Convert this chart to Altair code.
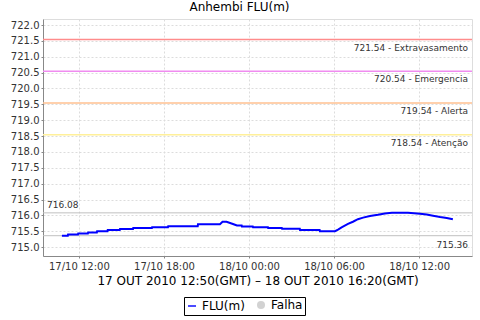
import altair as alt
import pandas as pd

# ---- data ----
flu_times = [
    "2010-10-17T10:48:00", "2010-10-17T11:13:00", "2010-10-17T11:14:00", "2010-10-17T11:56:00",
    "2010-10-17T11:57:00", "2010-10-17T12:38:00", "2010-10-17T12:39:00", "2010-10-17T13:16:00",
    "2010-10-17T13:17:00", "2010-10-17T14:01:00", "2010-10-17T14:02:00", "2010-10-17T14:53:00",
    "2010-10-17T14:54:00", "2010-10-17T15:49:00", "2010-10-17T15:50:00", "2010-10-17T17:09:00",
    "2010-10-17T17:10:00", "2010-10-17T18:17:00", "2010-10-17T18:18:00", "2010-10-17T20:23:00",
    "2010-10-17T20:24:00", "2010-10-17T21:57:00", "2010-10-17T22:08:00", "2010-10-17T22:25:00",
    "2010-10-17T22:52:00", "2010-10-17T23:09:00", "2010-10-17T23:29:00", "2010-10-17T23:30:00",
    "2010-10-18T00:16:00", "2010-10-18T00:17:00", "2010-10-18T01:20:00", "2010-10-18T01:21:00",
    "2010-10-18T02:19:00", "2010-10-18T02:20:00", "2010-10-18T03:35:00", "2010-10-18T03:36:00",
    "2010-10-18T04:59:00", "2010-10-18T05:00:00", "2010-10-18T06:04:00", "2010-10-18T06:17:00",
    "2010-10-18T06:32:00", "2010-10-18T06:59:00", "2010-10-18T07:20:00", "2010-10-18T07:41:00",
    "2010-10-18T08:03:00", "2010-10-18T08:32:00", "2010-10-18T09:06:00", "2010-10-18T09:35:00",
    "2010-10-18T10:05:00", "2010-10-18T11:13:00", "2010-10-18T12:04:00", "2010-10-18T12:32:00",
    "2010-10-18T12:59:00", "2010-10-18T13:29:00", "2010-10-18T13:57:00", "2010-10-18T14:23:00",
]
flu_values = [
    715.36, 715.36, 715.40, 715.40,
    715.43, 715.43, 715.46, 715.46,
    715.50, 715.50, 715.54, 715.54,
    715.57, 715.57, 715.60, 715.60,
    715.63, 715.63, 715.66, 715.66,
    715.72, 715.72, 715.80, 715.80,
    715.73, 715.68, 715.68, 715.65,
    715.65, 715.63, 715.63, 715.60,
    715.60, 715.58, 715.58, 715.54,
    715.54, 715.50, 715.50, 715.55,
    715.62, 715.73, 715.80, 715.88,
    715.93, 715.98, 716.02, 716.06,
    716.08, 716.08, 716.05, 716.03,
    715.99, 715.95, 715.92, 715.88,
]

threshold_values = [721.54, 720.54, 719.54, 718.54]
threshold_names = ["Extravasamento", "Emergencia", "Alerta", "Atenção"]
threshold_colors = ["#ff8c8c", "#f08cf0", "#ffc090", "#fff09a"]

max_value = 716.08
min_value = 715.36

legend_names = ["FLU(m)", "Falha"]
legend_colors = ["#0000ff", "#c0c0c0"]

y_ticks = [715.0 + 0.5 * i for i in range(15)]
x_tick_times = [(17, 12), (17, 18), (18, 0), (18, 6), (18, 12)]

title_text = "Anhembi FLU(m)"
x_title = "17 OUT 2010 12:50(GMT) \u2013 18 OUT 2010 16:20(GMT)"

# ---- tables ----
flu_df = pd.DataFrame({"t": flu_times, "v": flu_values})
thr_df = pd.DataFrame({
    "v": threshold_values,
    "label": [f"{v:.2f} - {n}" for v, n in zip(threshold_values, threshold_names)],
    "color": threshold_colors,
})
max_df = pd.DataFrame({"v": [max_value], "label": [f"{max_value:.2f}"]})
min_df = pd.DataFrame({"v": [min_value], "label": [f"{min_value:.2f}"]})
leg_df = pd.DataFrame({
    "s": legend_names,
    "t": ["2010-10-17T12:00:00", "2010-10-17T12:00:00"],
    "v": [700.0, 700.0],
})

FONT = "DejaVu Sans"

y_scale = alt.Scale(domain=[714.72, 722.19], nice=False, zero=False)
x_scale = alt.Scale(domain=[
    alt.DateTime(year=2010, month=10, date=17, hours=9, minutes=28),
    alt.DateTime(year=2010, month=10, date=18, hours=15, minutes=44),
], nice=False)

y_axis = alt.Axis(
    title=None, values=y_ticks, format=".1f", labelFontSize=10, labelFont=FONT,
    labelColor="#333333", tickSize=2, labelPadding=2, domainColor="#888888",
    tickColor="#888888", gridColor="#dcdcdc", gridDash=[2, 2],
)
x_axis = alt.Axis(
    title=x_title,
    values=[alt.DateTime(year=2010, month=10, date=d, hours=h) for d, h in x_tick_times],
    format="%d/%m %H:%M", labelFontSize=10, labelFont=FONT, labelColor="#333333",
    tickSize=2, labelPadding=3, domainColor="#888888", tickColor="#888888",
    gridColor="#dcdcdc", gridDash=[2, 2], titleFont=FONT, titleFontSize=12,
    titleFontWeight="normal", titleColor="black", titlePadding=4,
)

def Y():
    return alt.Y("v:Q", scale=y_scale, axis=y_axis)

thr_rules = alt.Chart(thr_df).mark_rule(strokeWidth=1.5).encode(
    y=Y(), color=alt.Color("color:N", scale=None)
)
thr_text = alt.Chart(thr_df).mark_text(
    align="right", baseline="middle", dy=8, fontSize=9, font=FONT, color="#333333"
).encode(y=Y(), x=alt.value(425), text="label:N")

minmax_rules = alt.Chart(pd.concat([max_df, min_df])).mark_rule(
    color="#c0c0c0", strokeWidth=1
).encode(y=Y())
max_text = alt.Chart(max_df).mark_text(
    align="left", baseline="middle", dy=-8, fontSize=9, font=FONT, color="#333333"
).encode(y=Y(), x=alt.value(4), text="label:N")
min_text = alt.Chart(min_df).mark_text(
    align="right", baseline="middle", dy=9, fontSize=9, font=FONT, color="#333333"
).encode(y=Y(), x=alt.value(425), text="label:N")

line = alt.Chart(flu_df).mark_line(color="#0000ff", strokeWidth=2).encode(
    x=alt.X("t:T", scale=x_scale, axis=x_axis), y=Y()
)

leg_props = dict(
    title=None, orient="none", legendX=141, legendY=278, direction="horizontal",
    strokeColor="black", fillColor="white", padding=2, labelFontSize=12,
    labelFont=FONT, labelColor="black", symbolSize=64, symbolStrokeWidth=2,
    columnPadding=8, labelOffset=4, cornerRadius=0,
)
legend_layer = alt.Chart(leg_df).mark_point(filled=True, clip=True, strokeWidth=2).encode(
    x=alt.X("t:T", scale=x_scale, axis=x_axis),
    y=Y(),
    color=alt.Color("s:N", scale=alt.Scale(domain=legend_names, range=legend_colors),
                    legend=alt.Legend(**leg_props)),
    shape=alt.Shape("s:N", scale=alt.Scale(domain=legend_names, range=["stroke", "circle"]),
                    legend=alt.Legend(**leg_props)),
    stroke=alt.Stroke("s:N", scale=alt.Scale(domain=legend_names,
                                             range=["#0000ff", "rgba(0,0,0,0)"]),
                      legend=alt.Legend(**leg_props)),
)

chart = alt.layer(
    thr_rules, minmax_rules, thr_text, max_text, min_text, line, legend_layer
).properties(
    width=429, height=237,
    title=alt.TitleParams(title_text, font=FONT, fontSize=12, fontWeight="normal",
                          color="black", anchor="middle", baseline="bottom",
                          offset=4, dx=-18, dy=11),
    autosize=alt.AutoSizeParams(type="none"),
    padding={"left": 43, "top": 19, "right": 8, "bottom": 64},
).configure_view(stroke="#a0a0a0", strokeWidth=1).configure(background="white")

chart.save("out.html", embed_options={"renderer": "svg", "actions": False})
